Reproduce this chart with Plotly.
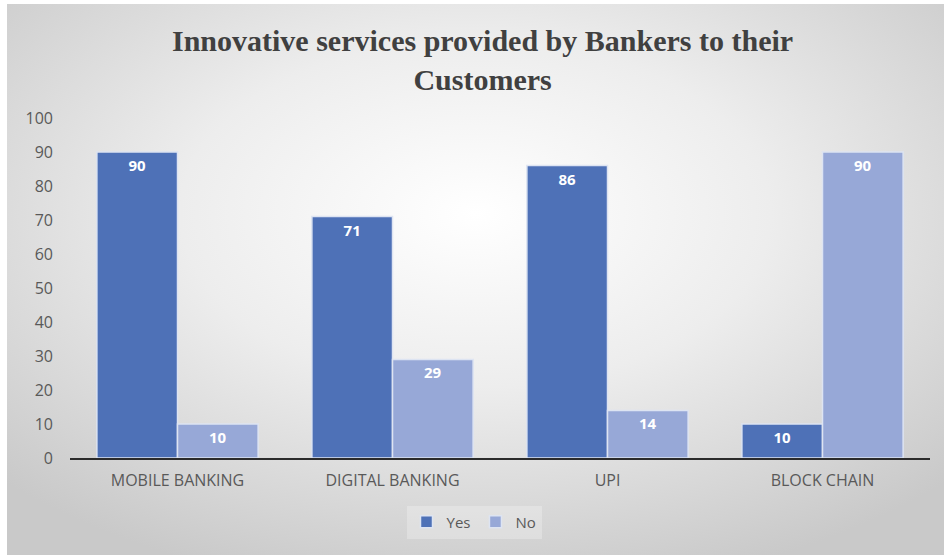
import base64
import plotly.graph_objects as go

# Chart data
categories = ["MOBILE BANKING", "DIGITAL BANKING", "UPI", "BLOCK CHAIN"]
yes_values = [90, 71, 86, 10]
no_values = [10, 29, 14, 90]
y_ticks = list(range(0, 101, 10))

YES_COLOR = "#4E71B7"
NO_COLOR = "#97A8D7"
EDGE = "#DDE4F2"
TEXT_GRAY = "#595959"

# Radial gradient background (white centre fading to grey edges)
svg = (
    '<svg xmlns="http://www.w3.org/2000/svg" width="937" height="551" '
    'preserveAspectRatio="none">'
    '<defs><radialGradient id="g" cx="50%" cy="38%" r="70%">'
    '<stop offset="0%" stop-color="#FFFFFF"/>'
    '<stop offset="45%" stop-color="#EDEDED"/>'
    '<stop offset="100%" stop-color="#C9C9C9"/>'
    '</radialGradient></defs>'
    '<rect width="937" height="551" fill="url(#g)"/></svg>'
)
bg_src = "data:image/svg+xml;base64," + base64.b64encode(svg.encode()).decode()

label_font = dict(color="white", size=15, family="Open Sans", weight="bold")

fig = go.Figure()

fig.add_trace(go.Bar(
    name="Yes", x=categories, y=yes_values,
    marker=dict(color=YES_COLOR, line=dict(color=EDGE, width=1.5)),
    text=yes_values, textposition="inside", insidetextanchor="end",
    textfont=label_font, textangle=0, cliponaxis=False,
))
fig.add_trace(go.Bar(
    name="No", x=categories, y=no_values,
    marker=dict(color=NO_COLOR, line=dict(color=EDGE, width=1.5)),
    text=no_values, textposition="inside", insidetextanchor="end",
    textfont=label_font, textangle=0, cliponaxis=False,
))

PLOT_W = 944 - 70 - 14
PLOT_H = 555 - 118 - 97

fig.update_layout(
    width=944, height=555,
    margin=dict(l=70, r=14, t=118, b=97),
    paper_bgcolor="white",
    plot_bgcolor="rgba(0,0,0,0)",
    barmode="group", bargap=0.25, bargroupgap=0.0,
    uniformtext=dict(minsize=12, mode="show"),
    annotations=[dict(
        text="Innovative services provided by Bankers to their<br>Customers",
        xref="paper", yref="paper",
        x=(482 - 70) / PLOT_W, y=1 + (118 - 22) / PLOT_H,
        xanchor="center", yanchor="top", showarrow=False, align="center",
        font=dict(family="Liberation Serif", size=30, color="#404040", weight="bold"),
    )],
    images=[dict(
        source=bg_src, xref="paper", yref="paper",
        x=-63 / PLOT_W, y=1 + (118 - 4) / PLOT_H,
        sizex=937 / PLOT_W, sizey=551 / PLOT_H,
        xanchor="left", yanchor="top", sizing="stretch", layer="below",
    )],
    showlegend=True,
    legend=dict(
        orientation="h", x=(474 - 70) / PLOT_W, xanchor="center",
        y=-(522 - 458) / PLOT_H, yanchor="middle",
        bgcolor="rgba(255,255,255,0.25)",
        font=dict(family="Open Sans", size=15, color=TEXT_GRAY),
        itemwidth=30, traceorder="normal",
    ),
)

fig.update_xaxes(
    showgrid=False, showline=True, linecolor="#2B2B2B", linewidth=2,
    ticks="", tickfont=dict(family="Open Sans", size=16, color=TEXT_GRAY),
    ticklabelstandoff=7,
)
fig.update_yaxes(
    range=[0, 100], tickvals=y_ticks, showgrid=False, zeroline=False,
    showline=False, ticks="",
    tickfont=dict(family="Open Sans", size=16, color=TEXT_GRAY),
    ticklabelstandoff=16,
)

fig.write_html("out.html")
